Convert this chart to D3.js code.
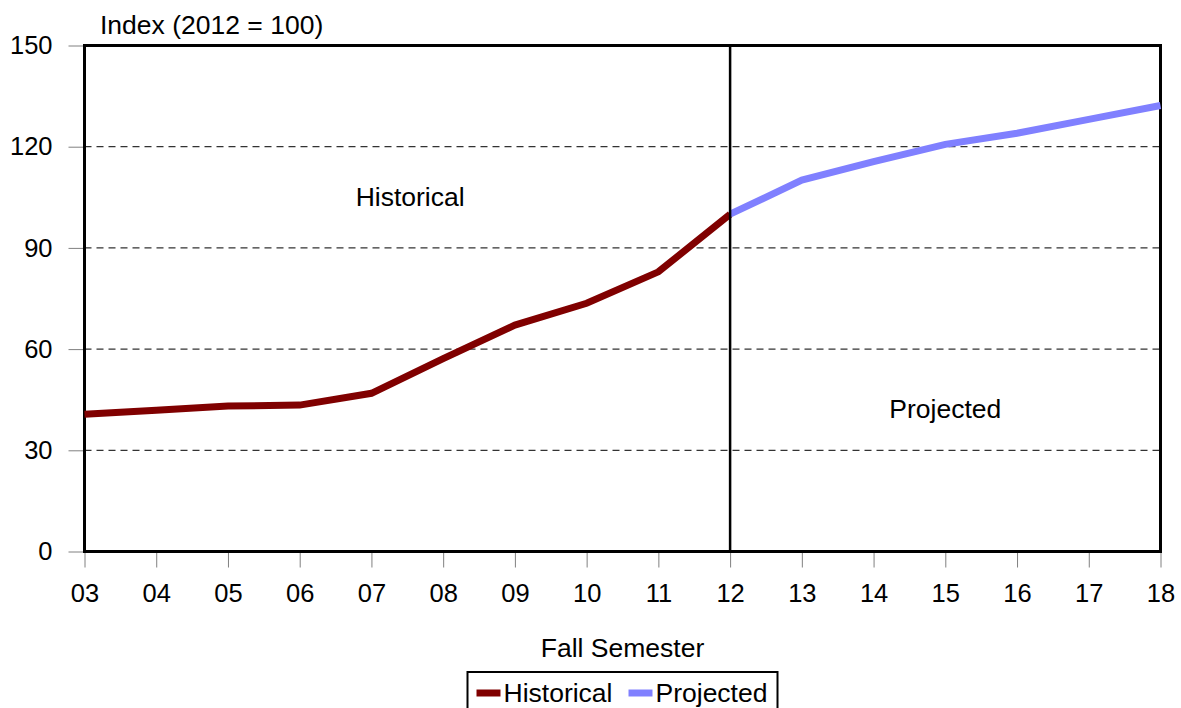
<!DOCTYPE html>
<html>
<head>
<meta charset="utf-8">
<script src="https://cdn.jsdelivr.net/npm/d3@7"></script>
<style>
  body { margin: 0; background: #fff; }
  text { font-family: "Liberation Sans", Arial, sans-serif; fill: #000; }
</style>
</head>
<body>
<svg id="chart" width="1181" height="708"></svg>
<script>
// data
const years = ["03", "04", "05", "06", "07", "08", "09", "10", "11", "12", "13", "14", "15", "16", "17", "18"];
const historical = [40.7, 41.9, 43.1, 43.4, 46.9, 57.2, 67.1, 73.6, 82.9, 100];
const projected = [100, 110.1, 115.6, 120.7, 124.0, 128.1, 132.2];
const yTicks = [0, 30, 60, 90, 120, 150];
const splitYear = "12";

const svg = d3.select("svg#chart");
const margin = { left: 84.5, right: 20.5, top: 45.5, bottom: 156.5 };
const width = 1181 - margin.left - margin.right;
const height = 708 - margin.top - margin.bottom;

const histColor = "#800000";
const projColor = "#8080ff";

const x = d3.scalePoint().domain(years).range([0, width]);
const y = d3.scaleLinear().domain([0, 150]).range([height, 0]);

const g = svg.append("g")
    .attr("transform", `translate(${margin.left}, ${margin.top})`);

// gridlines
g.append("g")
    .selectAll("line")
    .data(yTicks.filter(d => d > 0 && d < 150))
    .join("line")
    .attr("x1", 0)
    .attr("x2", width)
    .attr("y1", d => y(d))
    .attr("y2", d => y(d))
    .attr("stroke", "#333")
    .attr("stroke-width", 1.2)
    .attr("stroke-dasharray", "7,5");

// axes
const leftAxis = d3.axisLeft(y).tickValues(yTicks).tickSize(16).tickPadding(16);
g.append("g")
    .call(leftAxis)
    .call(a => a.select(".domain").remove())
    .call(a => a.selectAll(".tick line").attr("stroke", "#808080"))
    .call(a => a.selectAll(".tick text").style("font-size", "25.5px").attr("fill", "#000"));

const bottomAxis = d3.axisBottom(x).tickSize(16).tickPadding(16);
g.append("g")
    .attr("transform", `translate(0, ${height})`)
    .call(bottomAxis)
    .call(a => a.select(".domain").remove())
    .call(a => a.selectAll(".tick line").attr("stroke", "#808080"))
    .call(a => a.selectAll(".tick text").style("font-size", "25.5px").attr("fill", "#000"));

// plot frame
g.append("rect")
    .attr("x", 0)
    .attr("y", 0)
    .attr("width", width)
    .attr("height", height)
    .attr("fill", "none")
    .attr("stroke", "#000")
    .attr("stroke-width", 3);

// lines
const line = d3.line()
    .x(d => x(d.year))
    .y(d => y(d.value));

const histData = historical.map((v, i) => ({ year: years[i], value: v }));
const startIdx = years.indexOf(splitYear);
const projData = projected.map((v, i) => ({ year: years[startIdx + i], value: v }));

g.append("path")
    .datum(histData)
    .attr("d", line)
    .attr("fill", "none")
    .attr("stroke", histColor)
    .attr("stroke-width", 7);

g.append("path")
    .datum(projData)
    .attr("d", line)
    .attr("fill", "none")
    .attr("stroke", projColor)
    .attr("stroke-width", 7);

// divider at 2012
g.append("line")
    .attr("x1", x(splitYear))
    .attr("x2", x(splitYear))
    .attr("y1", 0)
    .attr("y2", height)
    .attr("stroke", "#000")
    .attr("stroke-width", 2.5);

// region labels
g.append("text")
    .text("Historical")
    .attr("x", x("07") + 0.54 * x.step())
    .attr("y", y(102.5))
    .attr("text-anchor", "middle")
    .style("font-size", "26.5px");
g.append("text")
    .text("Projected")
    .attr("x", x("15"))
    .attr("y", y(39.5))
    .attr("text-anchor", "middle")
    .style("font-size", "26.5px");

// axis titles
g.append("text")
    .text("Index (2012 = 100)")
    .attr("x", 15.5)
    .attr("y", -12)
    .style("font-size", "26.5px");
g.append("text")
    .text("Fall Semester")
    .attr("x", width / 2)
    .attr("y", height + 105)
    .attr("text-anchor", "middle")
    .style("font-size", "26.5px");

// legend
const legend = svg.append("g")
    .attr("transform", `translate(${margin.left + width / 2 - 155}, 672)`);
legend.append("rect")
    .attr("x", 0)
    .attr("y", 0)
    .attr("width", 310)
    .attr("height", 45)
    .attr("fill", "#fff")
    .attr("stroke", "#000")
    .attr("stroke-width", 2);
const legendItems = [
    { name: "Historical", color: histColor, x: 9 },
    { name: "Projected", color: projColor, x: 161 }
];
legendItems.forEach(item => {
    legend.append("line")
        .attr("x1", item.x)
        .attr("x2", item.x + 24)
        .attr("y1", 21)
        .attr("y2", 21)
        .attr("stroke", item.color)
        .attr("stroke-width", 7);
    legend.append("text")
        .text(item.name)
        .attr("x", item.x + 27)
        .attr("y", 30)
        .style("font-size", "26.5px");
});
</script>
</body>
</html>
